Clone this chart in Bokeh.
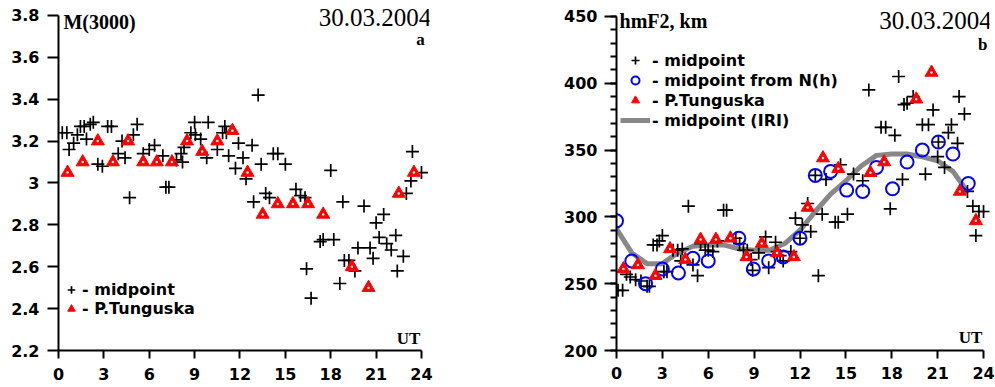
from bokeh.plotting import figure
from bokeh.models import (Range1d, FixedTicker, CustomJSTickFormatter, Legend,
                          LegendItem, Label)
from bokeh.layouts import row
from bokeh.embed import file_html
from bokeh.resources import INLINE

# ---------------- data: panel a (M(3000)) ----------------
midA_t = [0.25, 0.55, 0.7, 1.0, 1.25, 1.45, 1.7, 1.85, 2.1, 2.3, 2.6, 2.9, 3.25, 3.5,
          3.95, 4.2, 4.4, 4.7, 4.95, 5.2, 5.6, 6.0, 6.35, 6.9, 7.1, 7.3, 7.8, 8.1, 8.2,
          8.3, 8.75, 9.0, 9.05, 9.4, 9.8, 9.9, 10.5, 10.85, 11.0, 11.1, 11.25, 11.7,
          11.9, 12.2, 12.4, 12.8, 12.9, 13.2, 13.4, 13.7, 13.95, 14.2, 14.5, 15.0,
          15.7, 16.0, 16.3, 16.4, 16.7, 17.3, 17.5, 18.0, 18.2, 18.6, 18.8, 18.9,
          19.2, 19.6, 19.8, 20.2, 20.6, 20.8, 21.0, 21.2, 21.5, 21.7, 22.0, 22.3,
          22.4, 22.8, 23.0, 23.3, 23.4, 24.0]
midA_v = [3.24, 3.24, 3.16, 3.19, 3.23, 3.27, 3.27, 3.21, 3.28, 3.29, 3.09, 3.08, 3.27, 3.27,
          3.14, 3.20, 3.12, 2.93, 3.23, 3.28, 3.14, 3.16, 3.18, 3.13, 2.98, 2.98, 3.11, 3.14, 3.10,
          3.17, 3.24, 3.29, 3.23, 3.21, 3.12, 3.29, 3.16, 3.24, 3.27, 3.24, 3.13, 3.07,
          3.19, 3.12, 3.02, 3.18, 2.91, 3.42, 3.09, 2.95, 2.93, 3.14, 3.14, 3.09,
          2.97, 2.94, 2.93, 2.59, 2.45, 2.72, 2.73, 3.06, 2.73, 2.52, 2.91, 2.63,
          2.63, 2.58, 2.69, 2.89, 2.69, 2.64, 2.81, 2.74, 2.85, 2.71, 2.68, 2.75,
          2.58, 2.65, 2.95, 3.01, 3.15, 3.05]
tunA_t = [0.6, 1.6, 2.6, 3.6, 4.6, 5.6, 6.5, 7.5, 8.5, 9.5, 10.5, 11.5, 12.5, 13.5, 14.5,
          15.5, 16.5, 17.5, 19.4, 20.5, 22.5, 23.5]
tunA_v = [3.05, 3.10, 3.20, 3.10, 3.20, 3.10, 3.10, 3.10, 3.20, 3.15, 3.20, 3.25, 3.05, 2.85,
          2.90, 2.90, 2.90, 2.85, 2.60, 2.50, 2.95, 3.05]

# ---------------- data: panel b (hmF2) ----------------
midB_t = [0.1, 0.4, 0.65, 0.9, 1.25, 1.6, 2.0, 2.15, 2.4, 2.65, 2.8, 3.0, 3.1, 3.3, 3.7,
          4.0, 4.2, 4.3, 4.7, 5.0, 5.3, 5.5, 5.8, 6.0, 6.3, 6.6, 7.0, 7.2, 7.8, 8.05,
          8.3, 8.55, 8.8, 8.9, 9.3, 9.75, 9.95, 10.4, 10.5, 10.7, 10.9, 11.4, 11.7,
          12.0, 12.15, 12.5, 12.7, 13.0, 13.2, 13.45, 13.7, 14.3, 14.5, 14.65, 15.1,
          15.5, 16.1, 16.5, 17.3, 17.6, 17.9, 18.2, 18.45, 18.7, 18.8, 19.0, 19.4,
          20.0, 20.2, 20.4, 20.7, 21.0, 21.05, 21.45, 21.7, 21.9, 22.3, 22.4, 22.75,
          22.95, 23.3, 23.5, 23.7, 24.0]
midB_v = [245, 245, 257, 255, 253, 252, 248, 248, 279, 279, 282, 286, 259, 259, 275,
          275, 267, 276, 308, 264, 256, 280, 275, 275, 274, 282, 305, 305, 284, 280,
          275, 275, 268, 260, 273, 285, 262, 281, 274, 271, 267, 274, 299,
          284, 294, 310, 289, 331, 256, 302, 328, 296, 296, 339, 302,
          332, 327, 395, 367, 367, 306, 361, 405, 328, 384, 385, 390,
          369, 332, 369, 380, 345, 356, 337, 363, 369, 355, 390, 377,
          319, 308, 286, 304, 304]
nh_t = [0, 1.0, 1.9, 3.0, 4.05, 5.0, 6.0, 8.0, 8.95, 9.95, 10.9, 12.0, 13.0, 14.0, 15.05,
        16.1, 17.0, 18.05, 19.0, 20.0, 21.05, 22.0, 23.0]
nh_v = [297, 267, 250, 261, 258, 269, 267, 284, 261, 267, 270, 284, 331, 334, 320,
        319, 337, 321, 341, 350, 356, 347, 325]
tunB_t = [0.45, 1.4, 2.55, 3.5, 4.5, 5.5, 6.5, 7.45, 8.5, 9.5, 10.5, 11.6, 12.5, 13.5,
          14.5, 16.6, 17.5, 19.6, 20.6, 22.45, 23.5]
tunB_v = [261, 264, 256, 276, 268, 283, 283, 284, 270, 280, 273, 270, 307, 344,
          336, 333, 341, 388, 408, 319, 297]
iri_t = [0, 1, 2, 3, 4, 5, 6, 7, 8, 9, 10, 11, 12, 13, 14, 15, 16, 17, 18, 19, 20, 21, 22, 23]
iri_v = [291, 273, 265, 265, 273, 278, 279, 279, 276, 275, 275, 280, 290, 304, 317, 327,
         338, 346, 347, 347, 345, 342, 334, 318]

x_ticks = [0, 3, 6, 9, 12, 15, 18, 21, 24]
ya_ticks = [2.2, 2.4, 2.6, 2.8, 3.0, 3.2, 3.4, 3.6, 3.8]
yb_ticks = [200, 250, 300, 350, 400, 450]
yb_minor = list(range(200, 451, 10))

SANS = "DejaVu Sans"
SERIF = "Liberation Serif"


def style_axes(p, x_standoff):
    for ax in (p.xaxis[0], p.yaxis[0]):
        ax.axis_line_width = 2
        ax.axis_line_color = "black"
        ax.major_tick_line_width = 2
        ax.major_tick_line_color = "black"
        ax.minor_tick_line_width = 2
        ax.minor_tick_line_color = "black"
        ax.major_tick_in = 0
        ax.minor_tick_in = 0
        ax.axis_label_standoff = 0
        ax.major_label_text_line_height = 1.0
        ax.major_label_text_font = SANS
        ax.major_label_text_font_style = "bold"
        ax.major_label_text_font_size = "16px"
        ax.major_label_text_color = "black"
    p.xgrid.visible = False
    p.ygrid.visible = False
    p.outline_line_color = None
    p.xaxis.ticker = FixedTicker(ticks=x_ticks, minor_ticks=[])
    p.xaxis.bounds = (0, 24)
    p.xaxis.major_tick_out = 8
    p.xaxis.major_label_standoff = x_standoff
    p.xaxis.minor_tick_out = 0


def add_text(p, x, y, txt, size, bold, align="left", baseline="top", font=SERIF):
    p.add_layout(Label(x=x, y=y, text=txt, text_font=font,
                       text_font_size=size, text_font_style="bold" if bold else "normal",
                       text_align=align, text_baseline=baseline, text_color="black"))


def make_legend(items, loc, gw, gh, standoff):
    return Legend(items=items, location=loc, glyph_width=gw, glyph_height=gh, spacing=0,
                  label_standoff=standoff, label_height=gh, padding=0, margin=0,
                  border_line_color=None, background_fill_alpha=0,
                  label_text_font=SANS, label_text_font_style="bold",
                  label_text_font_size="16px", label_text_color="black")


# ---------------- panel a ----------------
# frame extends 13 px above the 3.8 line so the headings sit inside it
pa = figure(width=498, height=387, output_backend="svg", toolbar_location=None,
            x_range=Range1d(0, 24.53), y_range=Range1d(2.2, 3.8 + 13 / 209.4),
            min_border_left=58, min_border_right=69, min_border_top=2, min_border_bottom=37)
style_axes(pa, 9)
pa.yaxis.bounds = (2.2, 3.8)
pa.yaxis.ticker = FixedTicker(ticks=ya_ticks, minor_ticks=[])
pa.yaxis.formatter = CustomJSTickFormatter(code="return (Math.round(tick*10)/10).toString();")
pa.yaxis.major_tick_out = 11
pa.yaxis.minor_tick_out = 0
pa.yaxis.major_label_standoff = 8

ra1 = pa.scatter(midA_t, midA_v, marker="cross", size=13, line_color="black", line_width=1.7)
ra2 = pa.scatter(tunA_t, tunA_v, marker="triangle", size=13, fill_color="red",
                 line_color="red", line_width=1)
pa.scatter(tunA_t, tunA_v, marker="circle", size=2.5, fill_color="white", line_color=None)

pa.add_layout(make_legend([LegendItem(label="- midpoint", renderers=[ra1]),
                           LegendItem(label="- P.Tunguska", renderers=[ra2])],
                          (3, 32), 20, 19, 1))

add_text(pa, 0.33, 3.821, "M(3000)", "20px", True)
add_text(pa, 20.93, 3.79, "30.03.2004", "25px", False, align="center", baseline="middle")
add_text(pa, 23.93, 3.685, "a", "17px", True, align="center", baseline="middle")
add_text(pa, 23.14, 2.2575, "UT", "17px", True, align="center", baseline="middle")

# ---------------- panel b ----------------
pb = figure(width=497, height=387, output_backend="svg", toolbar_location=None,
            x_range=Range1d(0, 24.39), y_range=Range1d(200, 450 + 14 / 1.348),
            min_border_left=118, min_border_right=6, min_border_top=2, min_border_bottom=34)
style_axes(pb, 8)
pb.yaxis.bounds = (200, 450)
pb.yaxis.ticker = FixedTicker(ticks=yb_ticks, minor_ticks=yb_minor)
pb.yaxis.major_tick_out = 12
pb.yaxis.minor_tick_out = 6
pb.yaxis.major_label_standoff = 7

rb4 = pb.line(iri_t, iri_v, line_color="#888888", line_width=5)
rb1 = pb.scatter(midB_t, midB_v, marker="cross", size=13, line_color="black", line_width=1.7)
rb2 = pb.scatter(nh_t, nh_v, marker="circle", size=13, fill_color=None,
                 line_color="blue", line_width=2)
rb3 = pb.scatter(tunB_t, tunB_v, marker="triangle", size=13, fill_color="red",
                 line_color="red", line_width=1)
pb.scatter(tunB_t, tunB_v, marker="circle", size=2.5, fill_color="white", line_color=None)

pb.add_layout(make_legend([LegendItem(label="- midpoint", renderers=[rb1]),
                           LegendItem(label="- midpoint from N(h)", renderers=[rb2]),
                           LegendItem(label="- P.Tunguska", renderers=[rb3]),
                           LegendItem(label="- midpoint (IRI)", renderers=[rb4])],
                          (4, 220), 30, 20, 2))

add_text(pb, 0.2, 454.5, "hmF2, km", "20px", True)
add_text(pb, 20.86, 447, "30.03.2004", "25px", False, align="center", baseline="middle")
add_text(pb, 23.94, 429.2, "b", "17px", True, align="center", baseline="middle")
add_text(pb, 23.15, 209.6, "UT", "17px", True, align="center", baseline="middle")

layout = row(pa, pb)
open("out.html", "w").write(file_html(layout, INLINE))
